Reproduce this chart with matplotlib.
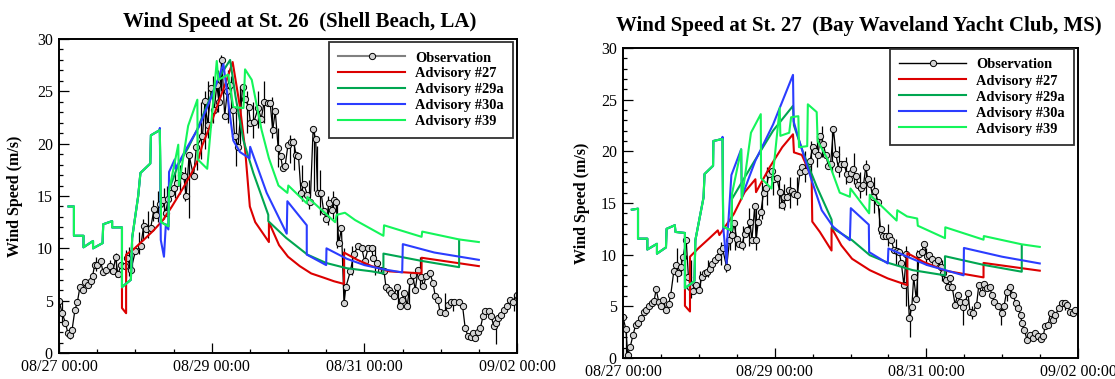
import matplotlib
matplotlib.use('Agg')
from matplotlib import pyplot as plt
from matplotlib.lines import Line2D
from matplotlib.ticker import MultipleLocator

plt.rcParams['font.family'] = ['Liberation Serif', 'DejaVu Serif']

# hours after 08/27 00:00
tick_hours = [0, 48, 96, 144]
tick_labels = ['08/27 00:00', '08/29 00:00', '08/31 00:00', '09/02 00:00']
adv_labels = ['Advisory #27', 'Advisory #29a', 'Advisory #30a', 'Advisory #39']
adv_colors = ['#dc0000', '#00a651', '#2b3dff', '#14f55a']

# ---- St. 26 (Shell Beach, LA) ----
obs26_h = [0, 1, 2, 2.8, 3.6, 4.1, 5, 5.8, 6.6, 7.5, 8.3, 9.2, 10, 10.6, 11.2, 12, 13.1, 13.9,
           14.8, 15.9, 17, 17.8, 18.5, 19.6, 20.7, 21.5, 22.6, 24, 25.7, 26.6, 27.5, 28.8, 29.9,
           30.6, 31.6, 32.7, 33.5, 34.4, 35.3, 36.1, 37.2, 38.3, 39.2, 40, 40.9, 42.3, 43.2, 45.1,
           45.9, 46.7, 47.9, 48.8, 49.6, 50.3, 51.2, 52.1, 52.9, 53.7, 54.6, 55.2, 56.3, 57.7,
           58.5, 59.6, 60.2, 61.3, 62.6, 63.6, 64.5, 65.6, 66.4, 67.2, 68, 68.9, 69.7, 70.3, 71.1,
           72, 72.8, 73.7, 74.6, 75.3, 76.1, 77, 78.1, 79, 79.9, 80.7, 81.3, 82.4, 83.2, 84, 84.9,
           85.8, 86.4, 87.1, 88, 88.8, 89.6, 90.2, 91.6, 92.7, 94.1, 95.2, 96.1, 97.2, 98.3, 98.8,
           100, 101.1, 102.2, 102.8, 103.7, 104.5, 105.3, 106.2, 107.1, 107.8, 108.6, 109.5,
           110.4, 111.2, 112, 112.9, 113.8, 114.6, 115.5, 116.6, 117.6, 118.3, 119.1, 119.8,
           121.3, 122.4, 123.2, 124.3, 125.8, 126.9, 127.7, 128.6, 129.5, 130.3, 130.8, 131.7,
           132.5, 133.3, 134, 135.1, 135.9, 136.7, 137.3, 138.1, 138.9, 139.8, 140.7, 141.8,
           142.6, 144]
obs26_v = [5.0, 3.8, 2.9, 1.9, 1.75, 2.2, 4.1, 4.9, 6.35, 6.05, 6.75, 6.5, 6.85, 7.4, 8.4, 8.4,
           8.75, 7.7, 7.95, 8.3, 7.8, 9.15, 7.55, 8.4, 8.3, 9.1, 7.95, 9.7, 10.2, 12.1, 11.8, 11.9,
           13.8, 13.2, 14.2, 14.6, 13.4, 14.7, 15.3, 15.75, 16.2, 17.0, 16.9, 15.0, 18.9, 16.9,
           19.7, 20.7, 24.1, 21.8, 25.3, 23.2, 25.6, 24.0, 28.0, 22.6, 25.0, 25.6, 23.2, 20.7,
           19.7, 25.4, 24.3, 23.5, 21.95, 22.1, 23.4, 22.4, 24.0, 23.9, 23.85, 21.3, 23.1, 19.6,
           18.8, 17.7, 17.9, 19.9, 20.2, 20.2, 18.9, 18.8, 15.3, 16.1, 15.1, 14.4, 21.4, 20.4,
           15.3, 15.3, 13.6, 12.8, 14.3, 13.7, 14.6, 14.4, 10.5, 11.9, 4.8, 6.3, 7.8, 9.5, 10.2,
           10.0, 8.75, 10.0, 10.0, 9.05, 8.6, 7.95, 7.8, 6.3, 6.0, 5.7, 5.4, 6.35, 4.45, 5.1, 5.75,
           4.5, 6.85, 7.5, 6.05, 7.95, 7.3, 6.4, 7.4, 7.6, 6.7, 5.4, 5.1, 3.9, 3.8, 4.6, 4.9, 4.9,
           4.9, 4.45, 2.4, 1.6, 1.55, 1.9, 1.45, 2.05, 2.4, 3.5, 4.0, 4.0, 3.5, 2.55, 2.85, 3.35,
           3.65, 4.15, 4.45, 5.1, 4.9, 5.5]
spk26_h = [1.0, 3.5, 11.5, 16.0, 18.0, 21.0, 22.0, 23.0, 25.0, 26.5, 28.0, 29.5, 31.0, 33.0,
           34.0, 36.5, 38.0, 39.5, 41.0, 43.5, 44.5, 46.0, 47.0, 48.5, 50.0, 51.0, 53.0, 54.0,
           55.5, 57.0, 59.0, 61.0, 62.5, 64.6, 67.0, 69.0, 72.5, 74.0, 76.5, 78.5, 80.2, 81.0,
           82.0, 84.5, 86.0, 87.5, 89.5, 92.0, 99.5, 106.5, 110.0, 113.5, 121.5, 124.0, 137.3,
           143.0]
spk26_lo = [3.0, 1.3, 7.8, 7.6, 7.3, 7.2, 7.4, 7.8, 9.5, 10.8, 11.0, 12.6, 12.5, 12.8, 13.5,
            14.8, 15.2, 14.5, 12.9, 17.5, 18.5, 19.5, 20.5, 22.0, 23.0, 25.0, 22.0, 23.0, 17.9,
            20.0, 21.0, 20.5, 21.5, 22.0, 20.5, 17.8, 18.2, 17.5, 14.5, 13.8, 15.5, 15.0, 13.2,
            12.2, 12.8, 10.0, 4.5, 7.5, 7.5, 4.5, 4.2, 6.2, 3.6, 4.0, 0.9, 4.0]
spk26_hi = [5.0, 2.5, 9.2, 8.9, 9.6, 9.8, 10.1, 10.5, 11.6, 12.8, 13.6, 14.6, 15.5, 15.8, 16.0,
            17.4, 18.0, 17.8, 19.2, 21.0, 24.0, 25.0, 26.0, 26.5, 27.0, 28.5, 27.0, 26.5, 23.0,
            25.5, 25.0, 24.0, 25.0, 26.0, 24.5, 21.5, 20.8, 20.5, 18.0, 16.5, 21.5, 19.8, 17.5,
            15.0, 15.5, 14.6, 10.0, 10.2, 10.2, 6.5, 7.0, 9.2, 5.7, 5.2, 3.2, 5.6]

hind26_h = [3.0, 4.7, 4.7, 7.7, 7.7, 10.7, 10.7, 13.7, 13.9, 16.7, 16.7, 19.8, 19.8, 22.6,
            23.0, 24.9, 25.6, 28.7, 28.9, 31.7]
hind26_v = [14.0, 14.0, 11.2, 11.2, 10.1, 10.7, 10.0, 10.5, 12.3, 12.6, 12.0, 12.0, 6.3, 7.0,
            11.0, 15.0, 17.2, 18.1, 20.8, 21.3]
red26_h = [19.8, 19.8, 21.1, 21.1, 23.4, 26.6, 29.7, 32.7, 35.5, 38.9, 41.7, 43.9, 45.0, 47.9,
           50.1, 52.4, 54.6, 56.9, 58.5, 60.0, 61.7, 66.0, 66.0, 69.2, 72.0, 75.7, 79.3, 83.2,
           86.5, 89.6, 89.6, 93.8, 98.3, 103.9, 114.0, 114.0, 132.0]
red26_v = [6.1, 4.3, 3.8, 9.4, 9.9, 10.8, 11.7, 12.7, 14.0, 15.7, 17.2, 18.6, 19.8, 22.0, 23.9,
           25.8, 27.8, 23.5, 19.5, 14.0, 12.5, 10.6, 12.5, 10.3, 9.2, 8.3, 7.6, 7.2, 6.85, 6.6,
           9.6, 8.9, 8.3, 7.8, 7.6, 9.1, 8.3]
dg26_h = [32.1, 34.4, 34.6, 37.5, 40.6, 43.5, 47.0, 50.5, 53.8, 55.5, 58.0, 61.1, 65.8, 65.8,
          71.4, 78.1, 84.0, 90.5, 98.3, 102.0, 102.0, 114.0, 125.8, 125.8]
dg26_v = [12.5, 12.1, 15.6, 18.0, 19.6, 21.4, 24.0, 26.4, 28.0, 24.5, 20.3, 17.2, 13.2, 12.6,
          11.0, 9.4, 8.6, 8.1, 7.8, 7.6, 9.5, 8.8, 8.2, 10.8]
bl26_h = [31.7, 32.0, 33.0, 33.6, 34.4, 34.6, 36.4, 36.6, 40.0, 44.0, 48.0, 51.7, 53.8, 54.8,
          56.9, 59.9, 60.1, 65.3, 71.6, 71.8, 77.9, 77.9, 84.0, 84.1, 90.5, 96.0, 102.0, 107.9,
          108.1, 118.0, 132.0]
bl26_v = [21.5, 10.8, 9.2, 12.3, 11.8, 17.3, 18.5, 17.6, 19.5, 21.6, 24.5, 27.6, 22.6, 20.3,
          19.2, 18.6, 19.7, 15.3, 11.4, 14.5, 12.2, 9.4, 8.4, 10.0, 9.0, 8.4, 8.0, 7.7, 10.4,
          9.6, 8.9]
bg26_h = [32.1, 34.4, 34.6, 37.5, 37.7, 40.6, 43.5, 43.6, 46.6, 49.6, 50.1, 53.2, 54.8, 58.0,
          58.5, 60.6, 63.7, 66.0, 69.0, 71.8, 72.1, 77.9, 78.1, 86.8, 87.3, 89.9, 93.1, 102.0,
          102.2, 114.0, 114.2, 125.8, 132.0]
bg26_v = [12.5, 12.1, 15.5, 19.9, 16.0, 21.7, 24.2, 18.5, 17.6, 27.9, 26.1, 26.6, 23.5, 23.4,
          27.1, 26.1, 21.3, 18.6, 16.0, 15.3, 16.0, 14.3, 14.9, 12.5, 13.2, 13.4, 12.7, 11.2,
          12.2, 11.1, 11.6, 10.85, 10.6]

# ---- St. 27 (Bay Waveland Yacht Club, MS) ----
obs27_h = [0, 0.9, 1.5, 2.3, 3.2, 4.0, 4.75, 5.7, 6.6, 7.4, 8.2, 9.1, 9.85, 10.5, 11.3, 12.1,
           12.8, 13.6, 14.5, 15.1, 16.1, 16.8, 17.5, 18.3, 19.0, 20.0, 20.7, 21.3, 22.1, 23.0,
           24.1, 24.9, 25.8, 26.6, 27.4, 28.3, 29.2, 30.0, 30.6, 31.5, 32.8, 33.7, 34.5, 35.1,
           36.0, 36.8, 37.6, 38.5, 39.3, 40.2, 40.8, 41.7, 42.1, 42.8, 43.6, 44.5, 45.3, 46.2,
           47.0, 47.8, 48.7, 49.6, 50.4, 50.9, 51.9, 52.6, 53.4, 54.1, 55.2, 56.0, 56.8, 57.7,
           58.5, 59.2, 60.0, 60.9, 61.7, 62.5, 63.4, 64.2, 65.0, 65.7, 66.6, 67.4, 68.2, 69.1,
           70.0, 70.8, 71.5, 72.2, 72.8, 73.6, 74.5, 75.3, 76.1, 76.8, 77.5, 78.3, 79.0, 79.8,
           80.7, 81.5, 82.4, 83.2, 84.1, 84.9, 85.7, 86.6, 87.4, 88.1, 88.9, 89.7, 90.6, 91.4,
           92.0, 92.8, 93.7, 94.5, 95.3, 96.2, 97.0, 97.9, 98.7, 99.6, 100.5, 101.3, 102.1,
           102.7, 103.4, 104.2, 105.1, 105.9, 106.6, 107.5, 108.3, 109.2, 109.8, 110.7, 111.9,
           112.6, 113.5, 114.3, 115.1, 116.0, 116.8, 117.5, 118.6, 119.8, 120.6, 121.4, 122.5,
           123.4, 124.3, 125.1, 125.9, 126.2, 127.0, 127.9, 128.7, 129.6, 130.5, 131.3, 132.2,
           133.0, 133.6, 134.5, 135.3, 136.1, 136.8, 137.9, 139.0, 139.8, 140.6, 141.5, 142.4,
           143.2]
obs27_v = [3.95, 2.8, 0.3, 1.1, 2.25, 3.2, 3.4, 3.85, 4.5, 4.65, 5.0, 5.3, 5.55, 6.65, 5.45,
           5.05, 5.6, 4.65, 5.25, 6.1, 8.45, 9.0, 8.25, 8.8, 9.8, 11.45, 7.85, 6.85, 6.5, 7.05,
           6.6, 7.8, 8.2, 8.35, 8.65, 9.1, 9.45, 9.8, 10.35, 10.6, 8.8, 11.4, 11.9, 13.05, 11.55,
           11.05, 10.9, 12.0, 12.4, 13.15, 11.4, 14.75, 11.4, 13.15, 14.1, 16.0, 16.5, 17.8,
           18.1, 17.3, 17.4, 16.1, 14.85, 15.55, 15.6, 16.3, 16.2, 15.9, 15.8, 18.0, 18.45,
           18.05, 18.75, 19.1, 20.4, 20.05, 19.65, 21.5, 20.7, 19.6, 18.6, 18.8, 22.2, 19.7,
           18.3, 18.75, 18.75, 17.8, 17.3, 17.95, 18.3, 17.65, 16.7, 16.45, 16.7, 18.45, 17.3,
           16.85, 15.55, 16.2, 15.1, 12.5, 11.85, 11.8, 11.85, 11.45, 10.5, 10.4, 10.25, 9.15,
           7.05, 10.1, 3.85, 4.9, 7.85, 5.7, 10.05, 10.25, 11.05, 9.85, 9.95, 9.6, 9.15, 9.45,
           8.8, 8.2, 7.55, 6.9, 7.7, 6.85, 5.15, 6.1, 5.45, 4.95, 5.45, 6.25, 4.5, 4.4, 5.15,
           7.05, 6.25, 7.2, 6.75, 6.85, 6.1, 5.45, 5.05, 4.35, 5.05, 6.4, 6.85, 6.1, 5.35, 4.8,
           4.15, 3.35, 2.7, 1.75, 2.25, 1.9, 2.45, 2.1, 1.8, 2.1, 3.1, 3.2, 4.35, 3.7, 4.15,
           4.8, 5.35, 5.3, 5.15, 4.5, 4.35, 4.65]
spk27_h = [1.0, 17.0, 18.5, 19.5, 21.5, 24.5, 27.0, 31.0, 32.5, 34.0, 35.5, 38.0, 40.0, 42.0,
           44.0, 45.5, 47.5, 49.5, 51.0, 53.0, 55.0, 57.5, 59.5, 61.5, 63.0, 66.0, 68.5, 70.5,
           73.0, 75.0, 77.0, 79.5, 81.0, 84.0, 86.5, 89.5, 90.8, 93.0, 96.0, 101.0, 107.5,
           110.5, 119.5, 121.5, 140.0]
spk27_lo = [0.2, 7.4, 8.0, 6.8, 5.8, 6.3, 7.8, 9.0, 8.3, 10.5, 10.5, 10.5, 10.8, 10.5, 13.5,
            14.8, 15.8, 14.5, 14.3, 14.5, 14.8, 17.0, 18.0, 18.5, 19.5, 18.0, 17.5, 16.8, 16.8,
            15.5, 15.8, 14.0, 12.0, 10.8, 9.0, 5.0, 2.0, 5.5, 9.0, 7.5, 3.2, 3.8, 3.2, 5.5, 4.6]
spk27_hi = [2.8, 10.6, 9.8, 11.2, 9.5, 8.4, 9.5, 11.2, 10.0, 12.6, 13.2, 12.8, 14.5, 15.0,
            17.0, 18.5, 18.8, 17.5, 16.8, 17.5, 17.5, 20.0, 21.0, 21.5, 22.5, 22.5, 20.5, 19.5,
            19.8, 18.0, 19.2, 17.5, 14.5, 13.0, 11.5, 10.8, 5.0, 10.5, 10.6, 9.5, 5.6, 5.0, 4.8,
            7.0, 5.5]

hind27_h = [2.8, 4.75, 4.75, 7.7, 7.7, 10.75, 10.75, 13.6, 13.8, 16.4, 16.6, 19.6, 19.6, 22.6,
            22.9, 25.5, 25.8, 28.5, 28.6, 31.5]
hind27_v = [14.35, 14.45, 11.55, 11.55, 10.5, 11.05, 10.1, 10.7, 12.5, 12.85, 12.2, 12.1,
            6.75, 7.45, 11.4, 15.55, 17.8, 18.6, 21.0, 21.2]
red27_h = [19.6, 19.6, 21.2, 21.2, 23.8, 27.2, 30.0, 30.5, 35.1, 38.5, 41.9, 42.1, 46.4, 50.4,
           53.8, 54.1, 56.6, 59.7, 59.9, 62.3, 66.0, 66.0, 69.1, 72.5, 78.1, 83.8, 90.0, 90.0,
           95.1, 101.9, 114.1, 114.1, 131.9]
red27_v = [6.6, 5.05, 4.5, 9.8, 10.6, 11.55, 12.35, 11.9, 13.95, 16.05, 17.3, 16.05, 18.45,
           20.4, 21.65, 19.9, 19.65, 17.5, 13.2, 12.2, 10.4, 12.6, 10.9, 9.6, 8.5, 7.7, 7.05,
           10.15, 9.3, 8.45, 7.8, 9.2, 8.45]
dg27_h = [31.7, 34.3, 34.5, 40.5, 47.5, 53.8, 54.1, 57.1, 61.3, 66.0, 66.2, 72.5, 78.1, 84.0,
          91.7, 101.9, 101.9, 114.3, 126.2, 126.2]
dg27_v = [12.7, 12.35, 15.4, 18.5, 22.0, 24.4, 22.5, 19.8, 16.6, 13.4, 12.6, 11.4, 9.95, 9.2,
          8.5, 8.0, 9.85, 9.0, 8.35, 10.9]
bl27_h = [31.5, 31.7, 32.8, 33.0, 34.3, 37.4, 37.6, 41.9, 47.5, 53.8, 54.0, 56.0, 59.7, 62.9,
          66.5, 71.8, 72.1, 77.8, 77.9, 83.8, 84.0, 90.0, 96.2, 107.8, 107.9, 120.0, 131.9]
bl27_v = [21.4, 12.7, 9.15, 11.5, 17.7, 20.2, 15.6, 19.1, 22.6, 27.4, 22.9, 20.8, 17.2, 14.3,
          12.7, 11.4, 14.5, 12.9, 10.25, 9.15, 10.6, 9.8, 9.0, 8.0, 10.65, 9.8, 9.15]
bg27_h = [31.7, 34.3, 34.5, 37.4, 37.6, 40.5, 43.6, 43.7, 47.0, 49.6, 49.8, 52.6, 53.2, 55.5,
          55.7, 58.3, 58.5, 61.3, 61.6, 64.8, 68.6, 71.8, 72.0, 77.9, 78.1, 86.6, 86.8, 89.9,
          93.1, 93.3, 101.9, 102.0, 114.1, 114.2, 126.2, 131.9]
bg27_v = [12.7, 12.35, 15.9, 20.2, 15.4, 21.8, 23.6, 17.4, 16.4, 24.2, 21.5, 21.8, 23.3, 23.4,
          20.4, 20.5, 24.55, 23.8, 21.0, 19.2, 16.0, 15.6, 16.4, 14.0, 15.8, 13.3, 14.3, 13.7,
          13.5, 12.8, 11.6, 12.65, 11.45, 11.8, 11.0, 10.75]


def draw_panel(ax, obs_h, obs_v, spk_h, spk_lo, spk_hi, lines, obs_leg_color, obs_leg_lw, leg_anchor):
    ax.vlines(spk_h, spk_lo, spk_hi, color='black', lw=0.9, zorder=2)
    ax.plot(obs_h, obs_v, color='black', lw=0.9, marker='o', ms=4.5,
            mfc='#d4d4d4', mec='black', mew=0.7, zorder=2)
    for (h, v), color in zip(lines, adv_colors):
        ax.plot(h, v, color=color, lw=1.5, zorder=3)

    ax.set_xlim(0, 144)
    ax.set_ylim(0, 30)
    ax.set_xticks(tick_hours)
    ax.set_xticklabels(tick_labels)
    ax.xaxis.set_minor_locator(MultipleLocator(12))
    ax.yaxis.set_major_locator(MultipleLocator(5))
    ax.yaxis.set_minor_locator(MultipleLocator(1))
    ax.tick_params(which='both', direction='in', top=False, right=False,
                   labelsize=11.5, pad=4.5, width=0.9)
    ax.tick_params(which='major', length=7)
    ax.tick_params(which='minor', length=3)
    for s in ax.spines.values():
        s.set_linewidth(1.4)
    ax.set_ylabel('Wind Speed (m/s)', fontsize=11.5, fontweight='bold')

    handles = [Line2D([], [], color=obs_leg_color, lw=obs_leg_lw, marker='o', ms=4.5,
                      mfc='#d4d4d4', mec='black', mew=0.7)]
    for c in adv_colors:
        handles.append(Line2D([], [], color=c, lw=1.5))
    leg = ax.legend(handles, ['Observation'] + adv_labels, loc='upper right',
                    bbox_to_anchor=leg_anchor, borderaxespad=0, fancybox=False,
                    framealpha=1, edgecolor='#303030', handlelength=4.6,
                    handletextpad=0.7, labelspacing=0.2, borderpad=0.65,
                    prop={'weight': 'bold', 'size': 10.4})
    leg.get_frame().set_linewidth(1.3)


fig = plt.figure(figsize=(11.15, 3.79), dpi=100)
ax1 = fig.add_axes([59 / 1115, 1 - 353 / 379, 458 / 1115, 314 / 379])
ax2 = fig.add_axes([623 / 1115, 1 - 358 / 379, 455 / 1115, 310 / 379])

lines26 = [(red26_h, red26_v),
           (hind26_h + dg26_h, hind26_v + dg26_v),
           (hind26_h + bl26_h, hind26_v + bl26_v),
           (hind26_h + bg26_h, hind26_v + bg26_v)]
lines27 = [(red27_h, red27_v),
           (hind27_h + dg27_h, hind27_v + dg27_v),
           (hind27_h + bl27_h, hind27_v + bl27_v),
           (hind27_h + bg27_h, hind27_v + bg27_v)]

draw_panel(ax1, obs26_h, obs26_v, spk26_h, spk26_lo, spk26_hi, lines26,
           '#808080', 1.5, (1 - 4 / 458, 1 - 3 / 314))
draw_panel(ax2, obs27_h, obs27_v, spk27_h, spk27_lo, spk27_hi, lines27,
           'black', 1.0, (1 - 4 / 455, 1 - 1 / 310))
# label anchor is its right edge once rotated
ax1.yaxis.set_label_coords(-36 / 458, 0.5)
ax2.yaxis.set_label_coords(-33 / 455, 0.5)

fig.text(300 / 1115, 1 - 27 / 379, 'Wind Speed at St. 26  (Shell Beach, LA)',
         ha='center', va='baseline', fontsize=15, fontweight='bold')
fig.text(859 / 1115, 1 - 31 / 379, 'Wind Speed at St. 27  (Bay Waveland Yacht Club, MS)',
         ha='center', va='baseline', fontsize=15, fontweight='bold')

fig.savefig('out.png', dpi=100)
